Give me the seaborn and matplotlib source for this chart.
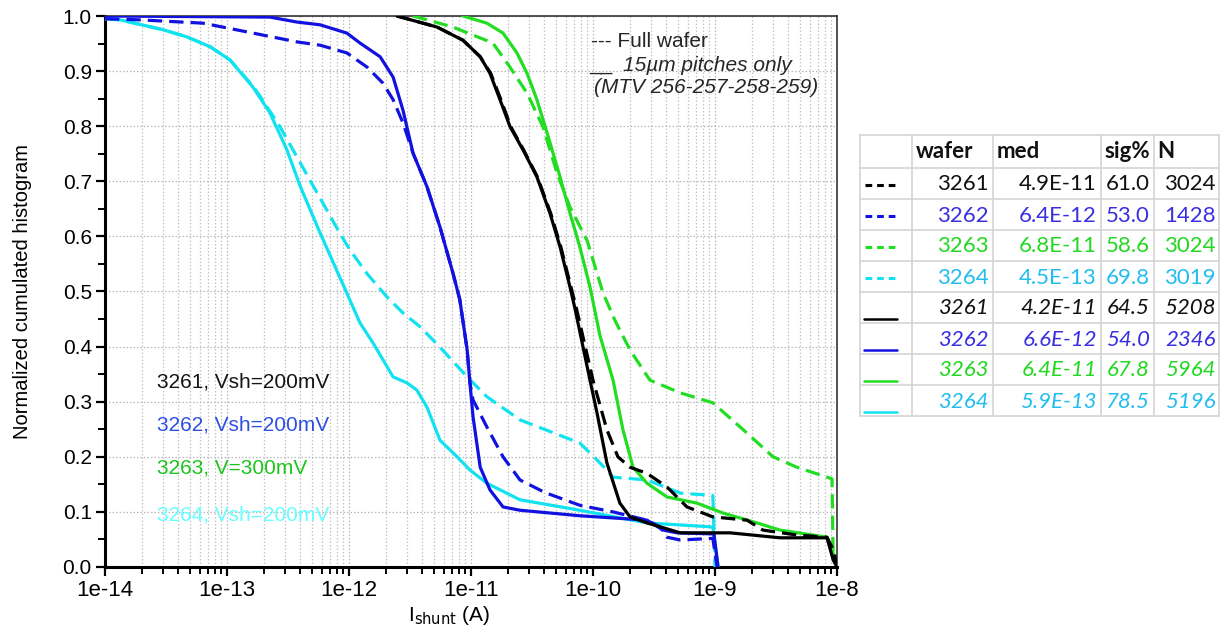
import numpy as np
import pandas as pd
import matplotlib
matplotlib.use("Agg")
import matplotlib.pyplot as plt
import seaborn as sns
from matplotlib.ticker import FixedLocator, FuncFormatter, NullFormatter, MultipleLocator

sns.set_theme(style="white")
plt.rcParams['font.family'] = ['Liberation Sans', 'DejaVu Sans']

# ---------------- data ----------------
# 3261 full wafer (dashed) / 15um pitches (solid)
x_3261_full = [2.47e-12, 5.26e-12, 8.6e-12, 1.19e-11, 1.45e-11, 1.76e-11, 2.12e-11, 2.7e-11, 3.5e-11,
               4.5e-11, 5.45e-11, 6.6e-11, 7.3e-11, 1.0e-10, 1.30e-10, 1.6e-10, 2.01e-10, 2.77e-10,
               4.05e-10, 5.89e-10, 9.6e-10, 1.83e-9, 2.47e-9, 4.7e-9, 8.28e-9, 9.4e-9, 1.0e-8]
y_3261_full = [1.0, 0.98, 0.956, 0.926, 0.896, 0.848, 0.799, 0.757, 0.708,
               0.642, 0.581, 0.508, 0.47, 0.339, 0.249, 0.2, 0.181, 0.17,
               0.145, 0.109, 0.091, 0.085, 0.067, 0.058, 0.054, 0.03, 0.0]
x_3261_15 = [2.47e-12, 5.26e-12, 8.6e-12, 1.19e-11, 1.43e-11, 1.73e-11, 2.09e-11, 2.67e-11, 3.47e-11,
             4.44e-11, 5.37e-11, 6.48e-11, 7.1e-11, 9.45e-11, 1.08e-10, 1.30e-10, 1.66e-10, 2.01e-10,
             2.77e-10, 5.2e-10, 1.33e-9, 3.41e-9, 8.28e-9, 9.3e-9, 1.0e-8]
y_3261_15 = [1.0, 0.98, 0.956, 0.926, 0.896, 0.848, 0.799, 0.757, 0.708,
             0.642, 0.581, 0.508, 0.47, 0.339, 0.279, 0.189, 0.116, 0.091,
             0.08, 0.062, 0.062, 0.053, 0.053, 0.013, 0.0]

# 3262
x_3262_full = [1e-14, 1.94e-14, 6.35e-14, 1.63e-13, 3.75e-13, 5.8e-13, 9.6e-13, 1.41e-12, 1.9e-12,
               2.3e-12, 2.77e-12, 3.35e-12, 4.36e-12, 5.57e-12, 7.1e-12, 8.1e-12, 9.3e-12, 9.8e-12,
               1.04e-11, 1.35e-11, 1.83e-11, 2.52e-11, 4.05e-11, 7.8e-11, 1.46e-10, 2.77e-10,
               3.54e-10, 4.05e-10, 5.2e-10, 9.6e-10, 1.04e-9]
y_3262_full = [0.995, 0.993, 0.987, 0.969, 0.953, 0.947, 0.933, 0.907, 0.878,
               0.848, 0.806, 0.751, 0.69, 0.617, 0.534, 0.485, 0.394, 0.334,
               0.303, 0.254, 0.2, 0.158, 0.135, 0.112, 0.1, 0.085,
               0.073, 0.054, 0.049, 0.052, 0.0]
x_3262_15 = [1e-14, 2.25e-13, 3.75e-13, 5.8e-13, 9.6e-13, 1.23e-12, 1.8e-12, 2.3e-12, 2.77e-12,
             3.35e-12, 4.36e-12, 5.57e-12, 7.1e-12, 8.1e-12, 9.3e-12, 9.8e-12, 1.04e-11, 1.19e-11,
             1.43e-11, 1.83e-11, 2.52e-11, 7.8e-11, 2.77e-10, 3.75e-10, 4.9e-10, 9.8e-10, 1.06e-9]
y_3262_15 = [1.0, 0.998, 0.989, 0.984, 0.969, 0.951, 0.926, 0.889, 0.829,
             0.751, 0.69, 0.617, 0.534, 0.485, 0.394, 0.334, 0.272, 0.181,
             0.14, 0.109, 0.103, 0.093, 0.085, 0.067, 0.062, 0.06, 0.0]

# 3263
x_3263_full = [3.35e-12, 7.1e-12, 1.51e-11, 2.09e-11, 2.88e-11, 3.89e-11, 5.07e-11, 6.48e-11, 8.93e-11,
               1.21e-10, 1.51e-10, 2.01e-10, 2.93e-10, 5.2e-10, 9.6e-10, 1.83e-9, 2.99e-9, 4.7e-9,
               8.28e-9, 9.1e-9, 9.3e-9, 1.0e-8]
y_3263_full = [1.0, 0.98, 0.951, 0.907, 0.86, 0.799, 0.715, 0.653, 0.593,
               0.497, 0.448, 0.394, 0.339, 0.316, 0.298, 0.243, 0.2, 0.181,
               0.163, 0.16, 0.02, 0.0]
x_3263_15 = [8.6e-12, 1.35e-11, 1.83e-11, 2.38e-11, 2.88e-11, 3.47e-11, 4.2e-11, 5.37e-11, 6.48e-11,
             7.8e-11, 9.45e-11, 1.14e-10, 1.46e-10, 1.76e-10, 2.13e-10, 2.77e-10, 4.05e-10, 7.1e-10,
             1.16e-9, 2.21e-9, 3.41e-9, 6.35e-9, 8.28e-9, 9.3e-9, 1.0e-8]
y_3263_15 = [1.0, 0.987, 0.969, 0.933, 0.896, 0.848, 0.788, 0.708, 0.642,
             0.581, 0.508, 0.42, 0.339, 0.249, 0.181, 0.152, 0.127, 0.116,
             0.098, 0.08, 0.067, 0.058, 0.054, 0.025, 0.0]

# 3264
x_3264_full = [1e-14, 1.33e-14, 3.0e-14, 4.7e-14, 7.3e-14, 1.06e-13, 1.63e-13, 1.86e-13, 2.72e-13,
               4.79e-13, 8.4e-13, 1.02e-12, 1.41e-12, 2.05e-12, 2.77e-12, 3.82e-12, 5.57e-12, 9.3e-12,
               1.35e-11, 2.52e-11, 7.8e-11, 1.14e-10, 1.46e-10, 2.77e-10, 5.2e-10, 9.6e-10, 1.0e-9]
y_3264_full = [0.995, 0.993, 0.975, 0.962, 0.944, 0.92, 0.873, 0.855, 0.799,
               0.702, 0.606, 0.575, 0.532, 0.49, 0.461, 0.436, 0.399, 0.345,
               0.309, 0.267, 0.225, 0.189, 0.163, 0.158, 0.134, 0.13, 0.0]
x_3264_15 = [1e-14, 1.33e-14, 3.0e-14, 4.7e-14, 7.3e-14, 1.06e-13, 1.63e-13, 2.25e-13, 3.1e-13,
             4.0e-13, 5.8e-13, 8.4e-13, 9.6e-13, 1.23e-12, 1.57e-12, 2.3e-12, 3.0e-12, 3.6e-12,
             4.36e-12, 5.57e-12, 7.7e-12, 9.8e-12, 1.35e-11, 2.52e-11, 7.8e-11, 2.77e-10, 9.1e-10,
             9.6e-10, 1.06e-9]
y_3264_15 = [0.995, 0.993, 0.975, 0.962, 0.944, 0.92, 0.871, 0.824, 0.757,
             0.69, 0.606, 0.526, 0.497, 0.443, 0.407, 0.345, 0.334, 0.321,
             0.29, 0.23, 0.2, 0.176, 0.152, 0.122, 0.103, 0.08, 0.073,
             0.072, 0.0]

wafers = ["3261", "3262", "3263", "3264"]
conditions = ["3261, Vsh=200mV", "3262, Vsh=200mV", "3263, V=300mV", "3264, Vsh=200mV"]
x_tick_values = [1e-14, 1e-13, 1e-12, 1e-11, 1e-10, 1e-9, 1e-8]
x_tick_labels = ["1e-14", "1e-13", "1e-12", "1e-11", "1e-10", "1e-9", "1e-8"]

# legend-table values
tbl_header = ["wafer", "med", "sig%", "N"]
tbl_wafer = ["3261", "3262", "3263", "3264", "3261", "3262", "3263", "3264"]
tbl_med = ["4.9E-11", "6.4E-12", "6.8E-11", "4.5E-13", "4.2E-11", "6.6E-12", "6.4E-11", "5.9E-13"]
tbl_sig = ["61.0", "53.0", "58.6", "69.8", "64.5", "54.0", "67.8", "78.5"]
tbl_N = ["3024", "1428", "3024", "3019", "5208", "2346", "5964", "5196"]

# ---------------- styles ----------------
line_col = {"3261": "#000000", "3262": "#1212e0", "3263": "#22dd22", "3264": "#12e2f0"}
txt_col = {"3261": "#111111", "3262": "#3a2fe0", "3263": "#22d822", "3264": "#22bdee"}
ann_col = {"3261": "#151515", "3262": "#2f4fe4", "3263": "#1cc41c", "3264": "#66ffff"}

series = {
    ("3261", "full"): (x_3261_full, y_3261_full), ("3261", "15um"): (x_3261_15, y_3261_15),
    ("3262", "full"): (x_3262_full, y_3262_full), ("3262", "15um"): (x_3262_15, y_3262_15),
    ("3263", "full"): (x_3263_full, y_3263_full), ("3263", "15um"): (x_3263_15, y_3263_15),
    ("3264", "full"): (x_3264_full, y_3264_full), ("3264", "15um"): (x_3264_15, y_3264_15),
}
rows = []
for (w, sub), (xs, ys) in series.items():
    for i, (xv, yv) in enumerate(zip(xs, ys)):
        rows.append({"wafer": w, "subset": sub, "I": xv, "frac": yv, "order": i})
df = pd.DataFrame(rows)

W, H = 1221, 632
fig = plt.figure(figsize=(W / 100, H / 100), dpi=100)
fig.patch.set_facecolor("white")
ax = fig.add_axes([105 / W, (H - 567) / H, 732 / W, 551 / H])
ax.set_facecolor("white")

draw_order = [("3264", "full"), ("3264", "15um"), ("3262", "full"), ("3262", "15um"),
              ("3263", "full"), ("3263", "15um"), ("3261", "full"), ("3261", "15um")]
for w, sub in draw_order:
    d = df[(df.wafer == w) & (df.subset == sub)].sort_values("order")
    sns.lineplot(data=d, x="I", y="frac", ax=ax, estimator=None, sort=False,
                 color=line_col[w], lw=2.3, zorder=3)
    ln = ax.get_lines()[-1]
    ln.set_solid_joinstyle("round")
    if sub == "full":
        ln.set_dashes((4.5, 2.2))

ax.set_xscale("log")
ax.set_xlim(1e-14, 1e-8)
ax.set_ylim(0, 1.0)

minor_vals = [m * t for t in x_tick_values[:-1] for m in range(2, 10)]
ax.xaxis.set_major_locator(FixedLocator(x_tick_values))
ax.xaxis.set_minor_locator(FixedLocator(minor_vals))
ax.set_xticklabels(x_tick_labels)
ax.xaxis.set_minor_formatter(NullFormatter())
ax.yaxis.set_major_locator(MultipleLocator(0.1))
ax.yaxis.set_minor_locator(MultipleLocator(0.05))
ax.yaxis.set_major_formatter(FuncFormatter(lambda v, p: "%.1f" % v))

ax.grid(True, which="major", axis="both", color="#b8b8b8", linestyle=(0, (1.2, 1.6)), lw=0.9, zorder=0)
ax.grid(True, which="minor", axis="x", color="#c4c4c4", linestyle=(0, (1.2, 1.6)), lw=0.9, zorder=0)

ax.tick_params(axis="both", which="major", direction="out", length=6.5, width=1.6,
               labelsize=15, pad=3, color="black", labelcolor="black",
               bottom=True, left=True, top=False, right=False)
ax.tick_params(axis="x", which="major", labelsize=16)
ax.tick_params(axis="both", which="minor", direction="out", length=5, width=1.4,
               color="black", bottom=True, left=True, top=False, right=False)

for s in ["left", "bottom"]:
    ax.spines[s].set_linewidth(2.2)
    ax.spines[s].set_color("black")
for s in ["top", "right"]:
    ax.spines[s].set_linewidth(1.2)
    ax.spines[s].set_color("#333333")

ax.set_ylabel("Normalized cumulated histogram", fontsize=14.5, color="black")
ax.yaxis.set_label_coords(-0.100, 0.5)
ax.set_xlabel(r"I$_{\mathrm{shunt}}$ (A)", fontsize=15, color="black")
ax.xaxis.set_label_coords(0.47, -0.068)

# condition annotations
ann_y = [0.336, 0.258, 0.18, 0.094]
for w, c, yy in zip(wafers, conditions, ann_y):
    ax.text(0.071, yy, c, transform=ax.transAxes, fontsize=15, color=ann_col[w],
            va="center", ha="left", zorder=4)

# top-right annotation
ax.text(0.664, 0.953, "--- Full wafer", transform=ax.transAxes, fontsize=15, va="center", ha="left")
ax.text(0.662, 0.912, "__", transform=ax.transAxes, fontsize=15, va="center", ha="left")
ax.text(0.707, 0.91, "15µm pitches only", transform=ax.transAxes, fontsize=15, va="center",
        ha="left", style="italic")
ax.text(0.668, 0.87, "(MTV 256-257-258-259)", transform=ax.transAxes, fontsize=15, va="center",
        ha="left", style="italic")

# ---------------- legend table ----------------
tx0, tx1, ty0, ty1 = 860, 1220, 135, 416
tab = fig.add_axes([tx0 / W, (H - ty1) / H, (tx1 - tx0) / W, (ty1 - ty0) / H])
tab.set_xlim(tx0, tx1)
tab.set_ylim(ty1, ty0)
tab.axis("off")
col_edges = [860, 912, 993, 1101, 1154, 1219]
row_edges = [135, 168] + [168 + 31 * (i + 1) for i in range(8)]
gc = "#d4d4d4"
for xe in col_edges:
    tab.plot([xe, xe], [row_edges[0], row_edges[-1]], color=gc, lw=1.2, clip_on=False)
for ye in row_edges:
    tab.plot([col_edges[0], col_edges[-1]], [ye, ye], color=gc, lw=1.2, clip_on=False)

tfont = ["Lato", "DejaVu Sans"]
hdr_x = [916, 997, 1104, 1157]
hdr_y = (row_edges[0] + row_edges[1]) / 2
for hx, ht in zip(hdr_x, tbl_header):
    tab.text(hx, hdr_y, ht, fontsize=16, fontweight="bold", family=tfont,
             ha="left", va="center", color="#111111")

right_x = [989, 1097, 1150, 1216]
for i in range(8):
    w = tbl_wafer[i]
    yc = (row_edges[i + 1] + row_edges[i + 2]) / 2
    st = "normal" if i < 4 else "italic"
    for rx, val in zip(right_x, [tbl_wafer[i], tbl_med[i], tbl_sig[i], tbl_N[i]]):
        tab.text(rx, yc + 1, val, fontsize=16, family=tfont, style=st,
                 ha="right", va="center", color=txt_col[w])
    if i < 4:
        tab.plot([865, 896], [yc + 1, yc + 1], color=line_col[w], lw=2.2, dashes=(2.2, 1.6))
    else:
        tab.plot([864, 897], [row_edges[i + 2] - 4, row_edges[i + 2] - 4], color=line_col[w], lw=1.8)

fig.savefig("out.png", dpi=100, facecolor="white")
